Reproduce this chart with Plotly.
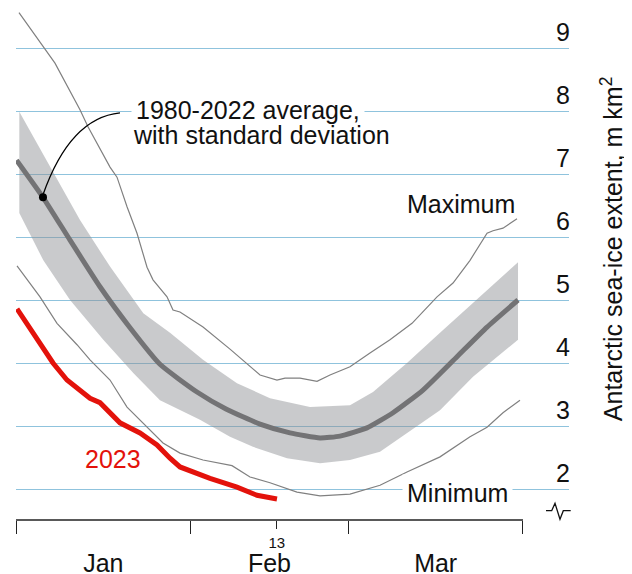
import plotly.graph_objects as go

# x = days since 1 January, y = million km2
avg_x = [0.09, 4.79, 9.59, 14.91, 20.24, 25.56, 32.13, 37.28, 43.32, 48.64, 53.97, 57.52, 62.31, 66.93, 72.25, 78.29, 83.62, 89.12]
avg_y = [7.22, 6.63, 5.95, 5.21, 4.56, 3.98, 3.54, 3.27, 3.03, 2.89, 2.81, 2.84, 2.97, 3.21, 3.57, 4.10, 4.57, 5.00]

sd_upper_x = [0.59, 6.04, 11.36, 16.69, 22.60, 27.34, 33.20, 39.23, 45.09, 52.19, 59.29, 63.38, 69.41, 75.27, 81.13, 89.12]
sd_upper_y = [7.99, 7.12, 6.27, 5.53, 4.79, 4.48, 4.05, 3.68, 3.44, 3.30, 3.33, 3.54, 4.00, 4.48, 4.95, 5.60]
sd_lower_x = [0.59, 4.85, 9.59, 15.50, 20.82, 25.56, 32.66, 37.99, 42.07, 48.11, 53.97, 59.29, 64.62, 69.41, 75.27, 81.13, 89.12]
sd_lower_y = [6.38, 5.63, 5.00, 4.37, 3.84, 3.41, 3.10, 2.83, 2.67, 2.49, 2.41, 2.46, 2.59, 2.89, 3.25, 3.78, 4.37]

max_x = [0.53, 5.15, 6.92, 11.36, 12.78, 16.69, 17.93, 19.71, 21.48, 23.26, 24.32, 26.81, 27.87, 29.11, 33.20, 37.99, 41.01, 43.32, 46.33, 47.75, 50.42, 53.44, 55.74, 59.29, 62.84, 66.39, 70.30, 72.96, 74.74, 77.58, 80.60, 83.62, 84.68, 86.45, 88.94]
max_y = [9.56, 8.97, 8.76, 8.02, 7.75, 7.11, 6.95, 6.48, 6.06, 5.52, 5.32, 5.05, 4.84, 4.81, 4.57, 4.22, 3.98, 3.81, 3.73, 3.76, 3.76, 3.71, 3.81, 3.94, 4.16, 4.37, 4.63, 4.89, 5.05, 5.27, 5.63, 6.06, 6.10, 6.14, 6.29]

min_x = [0.18, 4.26, 7.28, 10.83, 13.14, 14.91, 16.69, 19.71, 23.26, 26.10, 29.11, 33.20, 38.35, 41.54, 45.09, 49.88, 53.97, 59.29, 64.62, 69.41, 75.27, 80.60, 83.62, 86.45, 89.47]
min_y = [5.54, 5.05, 4.63, 4.29, 4.05, 3.89, 3.73, 3.30, 2.98, 2.73, 2.57, 2.46, 2.37, 2.19, 2.10, 1.95, 1.89, 1.92, 2.06, 2.27, 2.51, 2.83, 2.98, 3.21, 3.41]

y2023_x = [0.18, 3.02, 6.57, 9.05, 11.36, 13.14, 14.91, 16.69, 18.46, 22.01, 25.03, 27.34, 29.11, 34.44, 39.23, 42.78, 46.33]
y2023_y = [4.86, 4.48, 4.00, 3.73, 3.57, 3.44, 3.37, 3.21, 3.05, 2.89, 2.70, 2.49, 2.35, 2.17, 2.03, 1.90, 1.84]

month_edges = [0, 31, 59, 90]
month_centers = [15.5, 45, 74.5]
month_labels = ["Jan", "Feb", "Mar"]
latest_tick = [46.3]
latest_label = ["13"]
y_ticks = [2, 3, 4, 5, 6, 7, 8, 9]

X_RANGE = [0, 98.17]
Y_RANGE = [1.508, 9.635]
FONT = "Liberation Sans, Arial, Helvetica, sans-serif"
INK = "#111111"
GRID = "#8fc3dd"
FS = 25

fig = go.Figure()

fig.add_trace(go.Scatter(
    x=sd_upper_x + sd_lower_x[::-1], y=sd_upper_y + sd_lower_y[::-1],
    fill="toself", fillcolor="rgba(140,142,146,0.47)", line=dict(width=0),
    mode="lines", hoverinfo="skip", showlegend=False))
fig.add_trace(go.Scatter(x=max_x, y=max_y, mode="lines",
                         line=dict(color="#808080", width=1.2), showlegend=False))
fig.add_trace(go.Scatter(x=min_x, y=min_y, mode="lines",
                         line=dict(color="#808080", width=1.2), showlegend=False))
fig.add_trace(go.Scatter(x=avg_x, y=avg_y, mode="lines",
                         line=dict(color="#737375", width=5, shape="spline", smoothing=0.5),
                         showlegend=False))
fig.add_trace(go.Scatter(x=y2023_x, y=y2023_y, mode="lines",
                         line=dict(color="#e3120b", width=5), showlegend=False))
# annotation dot on the average line
fig.add_trace(go.Scatter(x=[avg_x[1]], y=[avg_y[1]], mode="markers",
                         marker=dict(color="#000000", size=8), showlegend=False))
# helper traces for overlay axes
fig.add_trace(go.Scatter(x=[None], y=[None], xaxis="x2", showlegend=False, hoverinfo="skip"))
fig.add_trace(go.Scatter(x=[None], y=[None], xaxis="x3", showlegend=False, hoverinfo="skip"))

fig.update_layout(
    width=632, height=574,
    margin=dict(l=8, r=71, t=0, b=62, autoexpand=False),
    paper_bgcolor="white", plot_bgcolor="white",
    font=dict(family=FONT, size=FS, color=INK),
    showlegend=False,
    xaxis=dict(range=X_RANGE, tickvals=month_edges, ticks="outside", ticklen=13,
               tickwidth=1.3, tickcolor="#222222", showticklabels=False, automargin=False,
               showgrid=False, zeroline=False, showline=False, fixedrange=True),
    xaxis2=dict(range=X_RANGE, overlaying="x", anchor="y", side="bottom", automargin=False,
                tickvals=latest_tick, ticktext=latest_label, ticks="outside", ticklen=8,
                tickwidth=1.3, tickcolor="#222222", tickfont=dict(size=15, color=INK),
                ticklabelstandoff=1,
                showgrid=False, zeroline=False, showline=False),
    xaxis3=dict(range=X_RANGE, overlaying="x", anchor="y", side="bottom", automargin=False,
                tickvals=month_centers, ticktext=month_labels, ticks="",
                tickfont=dict(size=FS, color=INK), ticklabelstandoff=26,
                showgrid=False, zeroline=False, showline=False),
    yaxis=dict(range=Y_RANGE, side="right", tickvals=y_ticks, ticks="", automargin=False,
               showgrid=True, gridcolor=GRID, gridwidth=1.3, zeroline=False,
               showline=False, tickfont=dict(size=FS, color=INK),
               ticklabelshift=-16, ticklabelstandoff=-14),
)

# x-axis baseline
fig.add_shape(type="line", xref="x", yref="paper", x0=month_edges[0], x1=month_edges[-1],
              y0=0, y1=0, line=dict(color="#222222", width=1.5))
# axis break symbol
fig.add_shape(type="path", xref="paper", yref="paper",
              path="M 0.9584 0.0182 L 0.9687 0.0182 L 0.9747 0.0326 L 0.9837 0.0014 L 0.9897 0.0182 L 1.0031 0.0182",
              line=dict(color="#111111", width=1.3))
# leader line
fig.add_shape(type="path", xref="x", yref="y",
              path="M 18.46 7.97 Q 9.59 7.89 4.79 6.67",
              line=dict(color="#000000", width=1.3))

fig.add_annotation(x=20.42, y=8.01, xref="x", yref="y", text="1980-2022 average,",
                   showarrow=False, xanchor="left", yanchor="middle",
                   bgcolor="white", borderpad=4, font=dict(size=FS, color=INK))
fig.add_annotation(x=20.42, y=7.62, xref="x", yref="y", text="with standard deviation",
                   showarrow=False, xanchor="left", yanchor="middle",
                   font=dict(size=FS, color=INK))
fig.add_annotation(x=79.0, y=6.52, xref="x", yref="y", text="Maximum",
                   showarrow=False, xanchor="center", yanchor="middle",
                   font=dict(size=FS, color=INK))
fig.add_annotation(x=78.3, y=1.94, xref="x", yref="y", text="Minimum",
                   showarrow=False, xanchor="center", yanchor="middle",
                   bgcolor="white", borderpad=4, font=dict(size=FS, color=INK))
fig.add_annotation(x=17.2, y=2.48, xref="x", yref="y", text="2023",
                   showarrow=False, xanchor="center", yanchor="middle",
                   font=dict(size=FS, color="#e3120b"))
fig.add_annotation(x=1.0778, y=0.529, xref="paper", yref="paper",
                   text="Antarctic sea-ice extent, m km<sup>2</sup>", textangle=-90,
                   showarrow=False, xanchor="center", yanchor="middle",
                   font=dict(size=FS, color=INK))

fig.write_html("out.html")
